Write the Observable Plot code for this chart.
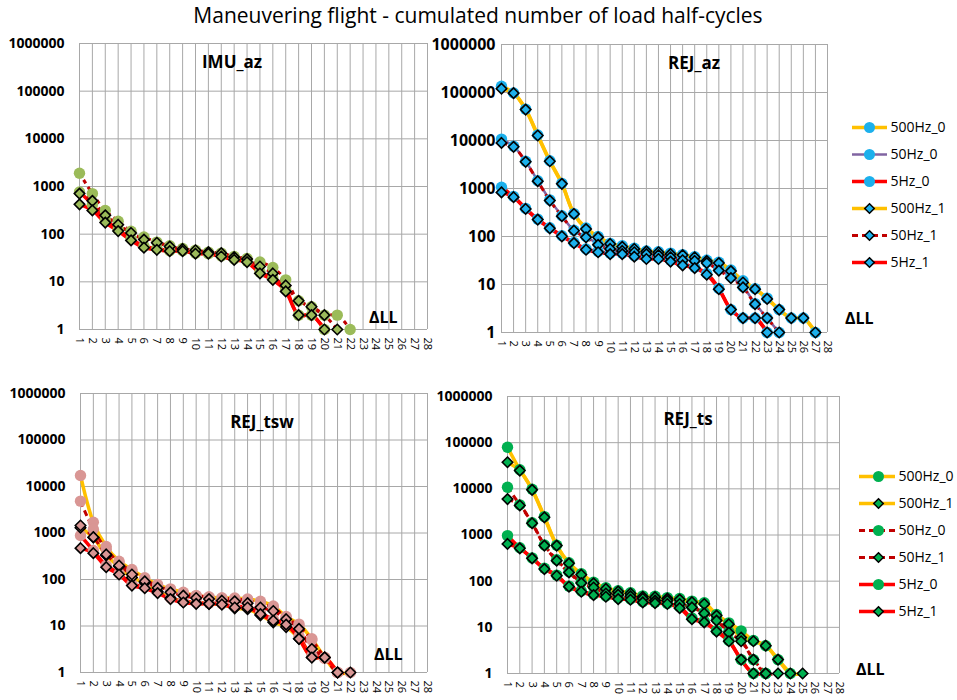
<!DOCTYPE html>
<html><head><meta charset="utf-8">
<script src="https://cdn.jsdelivr.net/npm/d3@7"></script>
<script src="https://cdn.jsdelivr.net/npm/@observablehq/plot@0.6"></script>
<style>
body{margin:0;background:#fff;font-family:"Open Sans",sans-serif;}
#root{position:relative;width:957px;height:700px;overflow:hidden;background:#fff;}
</style></head><body><div id="root"></div>
<script>
const xTicks = [1,2,3,4,5,6,7,8,9,10,11,12,13,14,15,16,17,18,19,20,21,22,23,24,25,26,27,28];
const yTicks = [1,10,100,1000,10000,100000,1000000];
const mainTitle = "Maneuvering flight - cumulated number of load half-cycles";
const panelTitles = ["IMU_az","REJ_az","REJ_tsw","REJ_ts"];
const legendNames1 = ["500Hz_0","50Hz_0","5Hz_0","500Hz_1","50Hz_1","5Hz_1"];
const legendNames2 = ["500Hz_0","500Hz_1","50Hz_0","50Hz_1","5Hz_0","5Hz_1"];

// IMU_az
const imu_50Hz_0 = [1900,710,315,186,115,87,68,57,50,46,42,40,34,31,26,20,11,4,3,2,2,1];
const imu_50Hz_1 = [710,500,248,158,106,77,66,55,49,46,42,40,33,30,21,15,8.4,4,3,2,1];
const imu_5Hz_0  = [767,420,200,125,80,56,50,45,45,40,39,35,30,27,16,12,7,2,2,1];
const imu_5Hz_1  = [423,315,175,116,74,52,47,44,44,39,39,34,29,26,15,11,6.3,2,2,1];

// REJ_az
const az_500Hz_0 = [135000,98000,45000,13000,3800,1280,300,150,100,72,64,57,50,48,45,42,38,32,29,20,12,8.2,5.2,3,2,2,1];
const az_50Hz_0  = [10700,7600,3700,1450,580,270,135,100,70,57,52,48,45,42,39,34,32,29,21,14.5,9,4,2,1];
const az_5Hz_0   = [1060,680,385,230,152,104,75,55,49,45,45,40,36,36,32,27,23,17,8.3,3,2,2,1];
const az_500Hz_1 = [120000,97000,44000,12700,3700,1250,295,143,96,70,61,55,49,47,43,41,37,31,28,19,11,8,5,3,2,2,1];
const az_50Hz_1  = [8900,7400,3600,1420,560,265,132,96,67,55,50,47,43,41,37,32,31,28,19.5,13.6,8.7,3.9,2,1];
const az_5Hz_1   = [830,660,375,225,148,101,73,53,47,43,43,38,34,34,30,25,22,16,8,3,2,2,1];

// REJ_tsw
const tsw_500Hz_0 = [17300,1700,513,248,164,109,78,63,53,45,42,40,40,38,34,27,16,11,5.3,2.1,1,1];
const tsw_50Hz_0  = [4840,1200,450,230,150,100,72,58,50,45,42,40,38,36,30,25,15,10,5,2.1,1];
const tsw_5Hz_0   = [884,420,200,135,80,70,55,40,34,32,31,30,26,26,19,14,11,6,2.3,2,1];
const tsw_500Hz_1 = [1300,800,330,190,110,85,55,40,33,31,30,29,24,23,17,12,9.5,5.3,2.1,2.1,1];
const tsw_50Hz_1  = [1450,814,346,200,128,91,66,53,45,40,38,35,34,31,25,21,14,8.7,3.2,2.1,1,1];
const tsw_5Hz_1   = [472,368,184,128,74,65,51,38,32,30,30,29,25,25,18,13,10.7,5.3,2.1,2.1,1];

// REJ_ts
const ts_500Hz_0 = [79600,26000,9800,2500,600,250,145,95,72,62,56,48,47,44,42,37,34,19,12.5,8.4,5.2,4,2,1];
const ts_50Hz_0  = [10800,4500,1850,610,290,160,95,76,57,53,49,43,40,39,34,28,21,15,8,5.3,2,1];
const ts_5Hz_0   = [970,530,320,190,135,78,61,52,48,43,41,36,35,33,28,16,13.5,8.5,5.2,2,1,1];
const ts_500Hz_1 = [37700,24900,9500,2420,590,243,138,90,68,60,54,46,45,42,40,35,32,18,11.7,6,5,4,2,1,1];
const ts_50Hz_1  = [6000,4370,1800,590,278,155,91,73,54,51,47,42,38,38,32,27,20,14,7.7,5,2,1,1];
const ts_5Hz_1   = [640,515,312,183,131,76,59,50,46,41,39.6,34.7,33.5,32,26,15,12.8,8.1,5,2,1,1];

const ORANGE = "#ffc000", RED = "#ff0000", DRED = "#c00000", PURPLE = "#8064a2";
const root = document.getElementById("root");

function rows(values){ return values.map((v,i)=>({x:xTicks[i], y:v})); }

function panel(cfg){
  const marks = [
    Plot.gridX(xTicks, {stroke:"#a8a8a8", strokeOpacity:1, strokeWidth:1}),
    Plot.gridY(yTicks, {stroke:"#a8a8a8", strokeOpacity:1, strokeWidth:1}),
    Plot.axisX(xTicks, {tickRotate:90, tickSize:0, tickPadding:8, fontSize:11, label:null, tickFormat:d=>String(d)}),
    Plot.axisY(yTicks, {tickSize:0, tickPadding:cfg.yPad, fontSize:cfg.yFont, fontWeight:"bold", label:null, tickFormat:d=>String(d)})
  ];
  for (const s of cfg.series) {
    marks.push(Plot.line(rows(s.values), {x:"x", y:"y", stroke:s.color, strokeWidth:s.width, strokeDasharray:s.dash || null, strokeLinecap:"butt", curve:"catmull-rom"}));
  }
  for (const s of cfg.series.filter(s=>s.shape==="circle")) {
    marks.push(Plot.dot(rows(s.values), {x:"x", y:"y", r:5.7, symbol:"circle", fill:cfg.marker, stroke:"none"}));
  }
  for (const s of cfg.series.filter(s=>s.shape==="diamond")) {
    marks.push(Plot.dot(rows(s.values), {x:"x", y:"y", r:4.7, symbol:"diamond2", fill:cfg.marker, stroke:"#000", strokeWidth:1.6}));
  }
  const p = Plot.plot({
    width:cfg.width, height:cfg.height,
    marginLeft:cfg.mL, marginRight:cfg.mR, marginTop:cfg.mT, marginBottom:cfg.mB,
    x:{type:"linear", domain:[1,28]},
    y:{type:"log", domain:[1,1000000]},
    style:{fontFamily:"Open Sans", color:"#000", background:"transparent", overflow:"visible"},
    marks
  });
  p.style.position="absolute"; p.style.left=cfg.left+"px"; p.style.top=cfg.top+"px";
  root.append(p);
}

panel({left:0, top:30, width:430, height:330, mL:79, mR:3, mT:13, mB:31, yFont:14, yPad:15, marker:"#9bbb59",
  series:[
    {values:imu_50Hz_0, color:DRED, width:3, dash:"4,4", shape:"circle"},
    {values:imu_5Hz_0, color:RED, width:3.5, shape:"circle"},
    {values:imu_50Hz_1, color:DRED, width:3, dash:"4,4", shape:"diamond"},
    {values:imu_5Hz_1, color:RED, width:3.5, shape:"diamond"}
  ]});

panel({left:430, top:30, width:400, height:330, mL:71, mR:3, mT:14, mB:28, yFont:16, yPad:6, marker:"#1cb0ec",
  series:[
    {values:az_500Hz_0, color:ORANGE, width:3.5, shape:"circle"},
    {values:az_50Hz_0, color:PURPLE, width:2.5, shape:"circle"},
    {values:az_5Hz_0, color:RED, width:3.5, shape:"circle"},
    {values:az_500Hz_1, color:ORANGE, width:3.5, shape:"diamond"},
    {values:az_50Hz_1, color:DRED, width:3, dash:"6,4", shape:"diamond"},
    {values:az_5Hz_1, color:RED, width:3.5, shape:"diamond"}
  ]});

panel({left:0, top:370, width:430, height:330, mL:80, mR:3, mT:23, mB:28, yFont:14, yPad:15, marker:"#d99694",
  series:[
    {values:tsw_500Hz_0, color:ORANGE, width:3.5, shape:"circle"},
    {values:tsw_50Hz_0, color:DRED, width:3, dash:"6,4", shape:"circle"},
    {values:tsw_5Hz_0, color:RED, width:3.5, shape:"circle"},
    {values:tsw_500Hz_1, color:ORANGE, width:3.5, shape:"diamond"},
    {values:tsw_50Hz_1, color:DRED, width:3, dash:"6,4", shape:"diamond"},
    {values:tsw_5Hz_1, color:RED, width:3.5, shape:"diamond"}
  ]});

panel({left:430, top:370, width:415, height:330, mL:77, mR:6, mT:26, mB:27, yFont:14, yPad:15, marker:"#00b050",
  series:[
    {values:ts_500Hz_0, color:ORANGE, width:3.5, shape:"circle"},
    {values:ts_50Hz_0, color:DRED, width:3, dash:"6,4", shape:"circle"},
    {values:ts_5Hz_0, color:RED, width:3.5, shape:"circle"},
    {values:ts_500Hz_1, color:ORANGE, width:3.5, shape:"diamond"},
    {values:ts_50Hz_1, color:DRED, width:3, dash:"6,4", shape:"diamond"},
    {values:ts_5Hz_1, color:RED, width:3.5, shape:"diamond"}
  ]});

// legends
function legend(cfg){
  const marks = [];
  cfg.entries.forEach(e=>{
    marks.push(Plot.ruleY([e.name], {y:d=>d, x1:cfg.l1, x2:cfg.l2, stroke:e.color, strokeWidth:e.width, strokeDasharray:e.dash || null}));
    if (e.shape==="circle") marks.push(Plot.dot([e.name], {y:d=>d, x:cfg.mx, r:5.5, symbol:"circle", fill:cfg.marker}));
    else marks.push(Plot.dot([e.name], {y:d=>d, x:cfg.mx, r:4.3, symbol:"diamond2", fill:cfg.marker, stroke:"#000", strokeWidth:1.5}));
    marks.push(Plot.text([e.name], {y:d=>d, x:cfg.tx, text:d=>d, textAnchor:"start", fontSize:14, fill:"#000"}));
  });
  const p = Plot.plot({
    width:cfg.width, height:cfg.height, marginLeft:0, marginRight:0, marginTop:cfg.mT, marginBottom:cfg.mB,
    x:{domain:[0,cfg.width], axis:null},
    y:{type:"point", domain:cfg.entries.map(e=>e.name), padding:0, axis:null},
    style:{fontFamily:"Open Sans", background:"transparent", overflow:"visible"},
    marks
  });
  p.style.position="absolute"; p.style.left=cfg.left+"px"; p.style.top=cfg.top+"px";
  root.append(p);
}

legend({left:845, top:110, width:112, height:170, mT:16, mB:17, l1:7, l2:42, mx:24, tx:45, marker:"#1cb0ec",
  entries:[
    {name:legendNames1[0], color:ORANGE, width:3.5, shape:"circle"},
    {name:legendNames1[1], color:PURPLE, width:2.5, shape:"circle"},
    {name:legendNames1[2], color:RED, width:3.5, shape:"circle"},
    {name:legendNames1[3], color:ORANGE, width:3.5, shape:"diamond"},
    {name:legendNames1[4], color:DRED, width:3, dash:"6,4", shape:"diamond"},
    {name:legendNames1[5], color:RED, width:3.5, shape:"diamond"}
  ]});

legend({left:850, top:458, width:107, height:170, mT:16, mB:16, l1:9, l2:45, mx:28, tx:48, marker:"#00b050",
  entries:[
    {name:legendNames2[0], color:ORANGE, width:3.5, shape:"circle"},
    {name:legendNames2[1], color:ORANGE, width:3.5, shape:"diamond"},
    {name:legendNames2[2], color:DRED, width:3, dash:"6,4", shape:"circle"},
    {name:legendNames2[3], color:DRED, width:3, dash:"6,4", shape:"diamond"},
    {name:legendNames2[4], color:RED, width:3.5, shape:"circle"},
    {name:legendNames2[5], color:RED, width:3.5, shape:"diamond"}
  ]});

// text overlay
const svg = d3.select(root).append("svg").attr("width",957).attr("height",700)
  .style("position","absolute").style("left","0px").style("top","0px").style("pointer-events","none")
  .style("font-family","Open Sans");
svg.append("text").attr("x",478).attr("y",23).attr("text-anchor","middle").attr("font-size",21).text(mainTitle);
const titlePos = [[232,68],[694,69],[262,428],[688,425]];
panelTitles.forEach((t,i)=>svg.append("text").attr("x",titlePos[i][0]).attr("y",titlePos[i][1]).attr("text-anchor","middle").attr("font-size",17).attr("font-weight","bold").text(t));
const llPos = [[369,323],[845,324],[374,660],[856,675]];
llPos.forEach(p=>svg.append("text").attr("x",p[0]).attr("y",p[1]).attr("font-size",16).attr("font-weight","bold").text("ΔLL"));
</script></body></html>
